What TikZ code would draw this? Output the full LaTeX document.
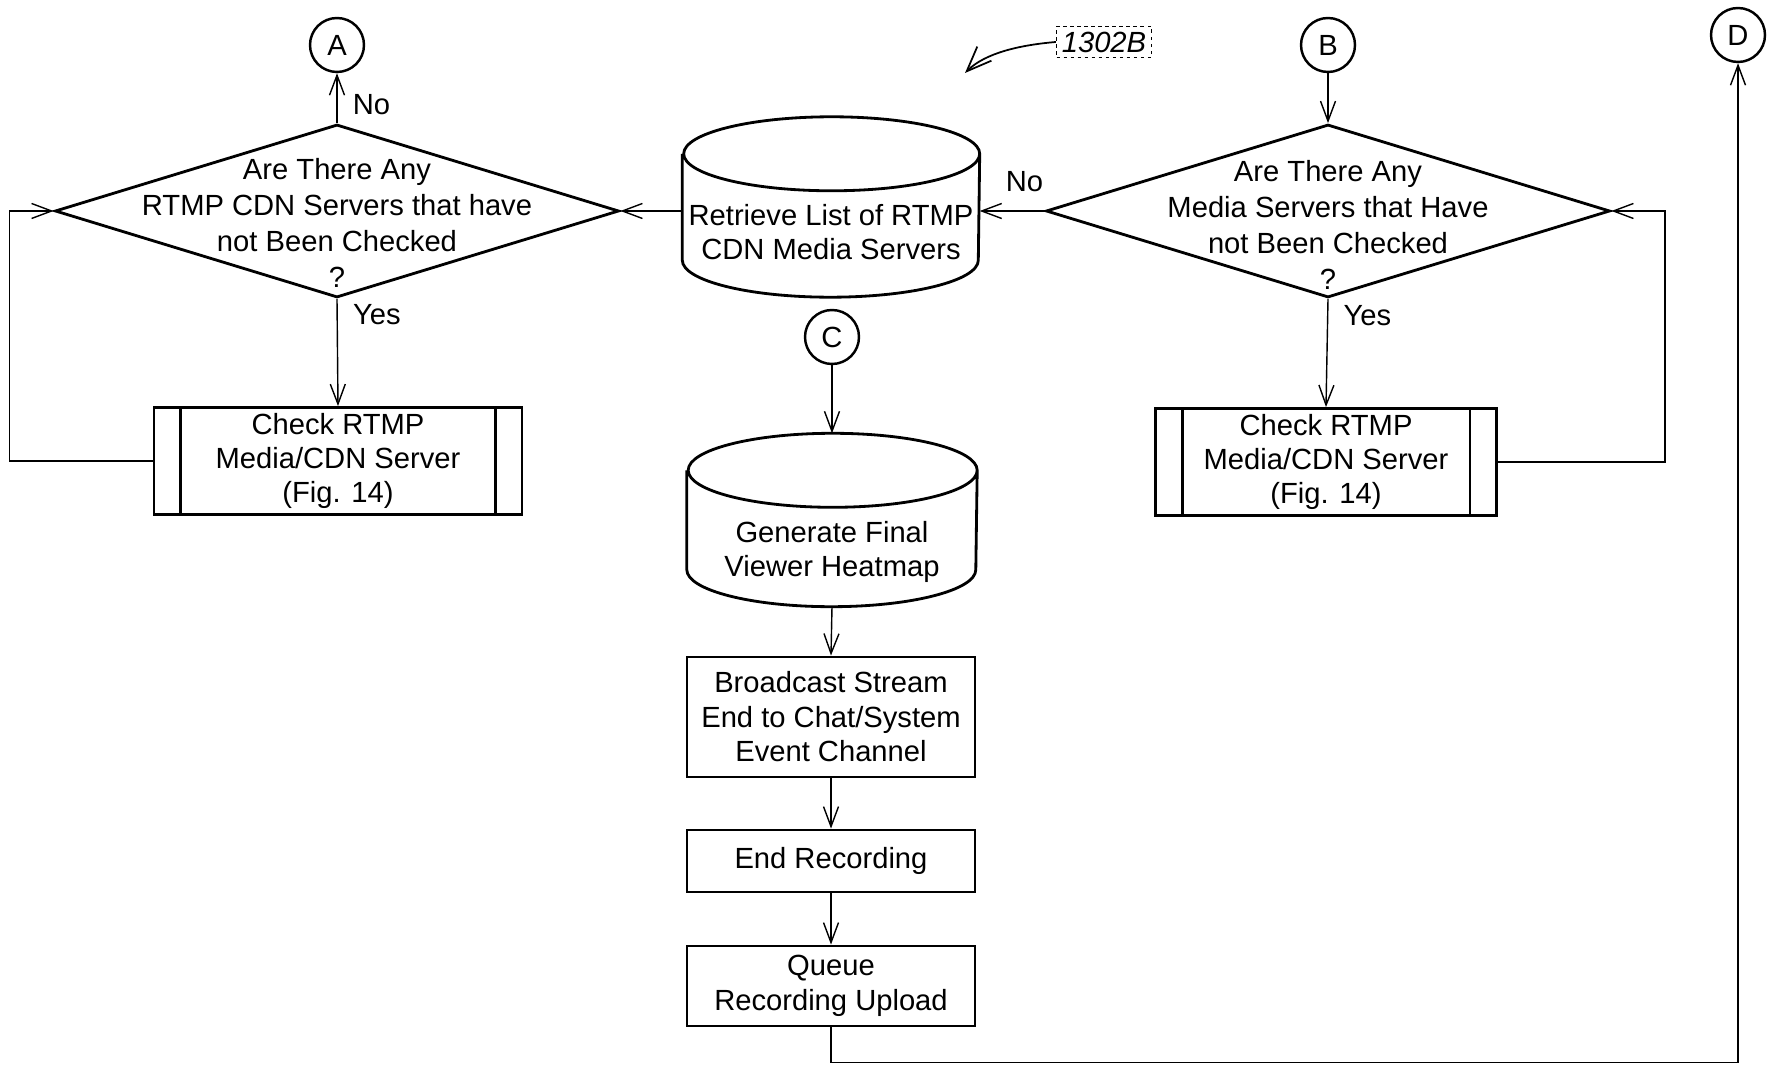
\documentclass[tikz,border=0pt]{standalone}
\usepackage{fontspec}
\setmainfont{Liberation Sans}
\usetikzlibrary{arrows.meta,positioning,shapes.geometric}
\tikzset{font=\fontsize{8.3}{9.8}\selectfont}
\tikzset{>={Straight Barb[length=2mm,width=1.5mm]}}
\tikzset{
  flow/.style={draw, line width=0.4pt, ->},
  procbox/.style={draw, line width=0.8pt, rectangle, minimum width=2.88cm, inner sep=0pt, align=center},
  subproc/.style={procbox, minimum height=1.07cm},
  decision/.style={draw, line width=0.8pt, diamond, inner sep=0pt, minimum width=5.64cm, minimum height=1.73cm},
  store/.style={rectangle, inner sep=0pt, align=center},
  conn/.style={draw, line width=0.7pt, circle, minimum size=0.54cm, inner sep=0pt},
  qtext/.style={align=center, font=\fontsize{8.3}{10.2}\selectfont}
}
% drum outline round a store node: #1 name, #2 half width, #3 cap radius
\newcommand{\drumline}[3]{%
  \draw[line width=0.8pt] ([yshift=-#3cm]#1.north west) -- ([yshift=#3cm]#1.south west)
    arc[start angle=180, end angle=360, x radius=#2cm, y radius=#3cm]
    -- ([yshift=-#3cm]#1.north east)
    arc[start angle=0, end angle=180, x radius=#2cm, y radius=#3cm]
    arc[start angle=180, end angle=360, x radius=#2cm, y radius=#3cm];}

\begin{document}
\begin{tikzpicture}
  \useasboundingbox (0,0) rectangle (17.75,-10.66);

  % off-page connectors
  \node[conn] (cA) at (3.37,-0.45) {A};
  \node[conn] (cB) at (13.28,-0.45) {B};
  \node[conn] (cC) at (8.32,-3.37) {C};
  \node[conn] (cD) at (17.38,-0.35) {D};

  % left branch
  \node[decision, label={[qtext, yshift=-0.12cm]center:Are There Any\\RTMP CDN Servers that have\\not Been Checked\\?}] (q1) at (3.37,-2.11) {};
  \node[subproc, minimum width=3.68cm] (chk1) at (3.38,-4.61) {Check RTMP\\Media/CDN Server\\(Fig. 14)};
  \draw[line width=0.8pt] ([xshift=0.28cm]chk1.north west) -- ([xshift=0.28cm]chk1.south west);
  \draw[line width=0.8pt] ([xshift=-0.28cm]chk1.north east) -- ([xshift=-0.28cm]chk1.south east);

  % centre column
  \node[store, minimum width=2.96cm, minimum height=1.79cm] (retr) at (8.31,-2.07) {};
  \node[align=center] (retrt) at (8.31,-2.32) {Retrieve List of RTMP\\CDN Media Servers};
  \drumline{retr}{1.48}{0.37}
  \node[store, minimum width=2.89cm, minimum height=1.72cm] (gen) at (8.32,-5.2) {};
  \node[align=center] (gent) at (8.32,-5.52) {Generate Final\\Viewer Heatmap};
  \drumline{gen}{1.445}{0.37}
  \node[procbox, minimum height=1.2cm] (bcast) at (8.31,-7.17) {Broadcast Stream\\End to Chat/System\\Event Channel};
  \node[procbox, minimum height=0.62cm] (endrec) at (8.31,-8.61) {End Recording};
  \node[procbox, minimum height=0.8cm] (queue) at (8.31,-9.86) {Queue\\Recording Upload};

  % right branch
  \node[decision, label={[qtext, yshift=-0.14cm]center:Are There Any\\Media Servers that Have\\not Been Checked\\?}] (q2) at (13.28,-2.11) {};
  \node[subproc, minimum width=3.41cm] (chk2) at (13.26,-4.62) {Check RTMP\\Media/CDN Server\\(Fig. 14)};
  \draw[line width=0.8pt] ([xshift=0.28cm]chk2.north west) -- ([xshift=0.28cm]chk2.south west);
  \draw[line width=0.8pt] ([xshift=-0.28cm]chk2.north east) -- ([xshift=-0.28cm]chk2.south east);

  % figure label
  \node[draw, line width=0.4pt, dash pattern=on 1pt off 1pt, inner sep=1.5pt, font=\fontsize{8.3}{9.8}\selectfont\itshape] (fig) at (11.04,-0.42) {1302B};
  \coordinate (figtip) at (9.65,-0.73);
  \draw[-{Straight Barb[length=2.5mm,width=2mm]}, line width=0.5pt] (fig.west) .. controls (10.2,-0.45) and (9.85,-0.53) .. (figtip);

  % flow lines
  \draw[flow] (q1.north) -- node[pos=0.38, right=1pt] {No} (cA);
  \draw[flow] (q1.south) -- node[pos=0.15, right=1pt] {Yes} (chk1.north);
  \draw[flow] (chk1.west) -- ++(-1.43,0) |- (q1.west);
  \draw[flow] (retr.west |- q1.east) -- (q1.east);

  \draw[flow] (cB) -- (q2.north);
  \draw[flow] (q2.west) -- node[pos=0.31, above=2pt] {No} (retr.east |- q2.west);
  \draw[flow] (q2.south) -- node[pos=0.15, right=1pt] {Yes} (chk2.north);
  \draw[flow] (chk2.east) -- ++(1.67,0) |- (q2.east);

  \draw[flow] (cC) -- (gen.north);
  \draw[flow] (gen.south) -- (bcast.north);
  \draw[flow] (bcast) -- (endrec);
  \draw[flow] (endrec) -- (queue);
  \draw[flow] (queue.south) -- ++(0,-0.35) -| (cD.south);
\end{tikzpicture}
\end{document}
